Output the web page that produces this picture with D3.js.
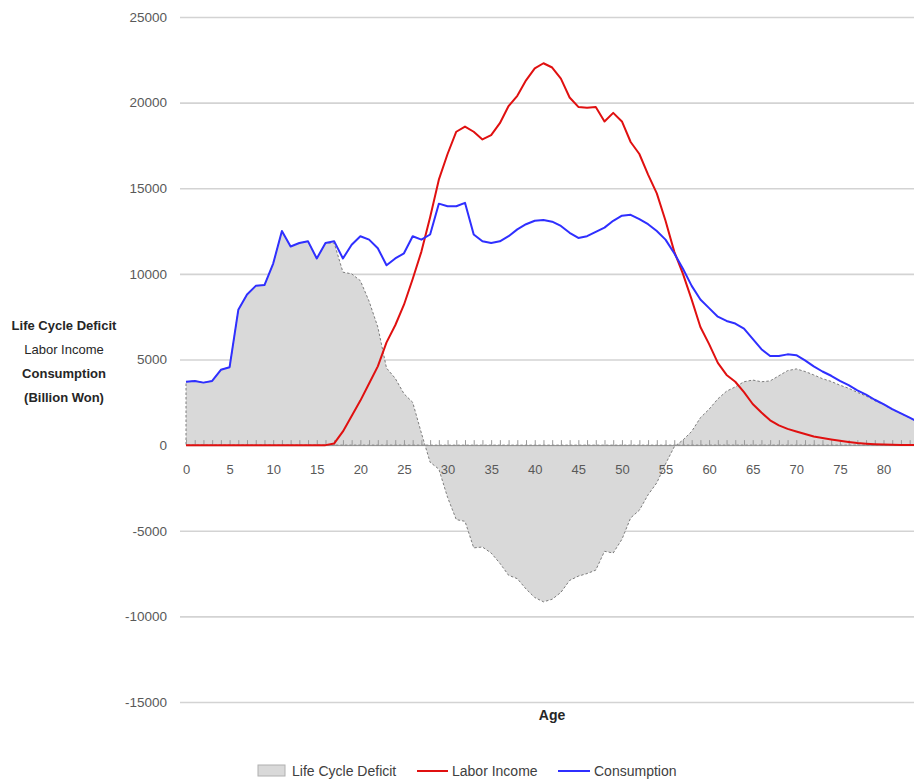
<!DOCTYPE html>
<html>
<head>
<meta charset="utf-8">
<script src="https://cdn.jsdelivr.net/npm/d3@7"></script>
<style>
    body { margin: 0; background: #fff; }
    svg { display: block; font-family: "Liberation Sans", Arial, sans-serif; }
</style>
</head>
<body>
<div id="chart-container"></div>
<script>
// ages 0..84 (category axis)
const ages = d3.range(0, 85);

// Consumption by age (billion won)
const consumption = [
    3700, 3750, 3650, 3750, 4400, 4550, 7900, 8800, 9300, 9350,
    10600, 12500, 11600, 11800, 11900, 10900, 11800, 11900, 10900, 11700,
    12200, 12000, 11500, 10500, 10900, 11200, 12200, 12000, 12300, 14100,
    13950, 13950, 14150, 12300, 11900, 11800, 11900, 12200, 12600, 12900,
    13100, 13150, 13050, 12800, 12400, 12100, 12200, 12450, 12700, 13100,
    13400, 13450, 13200, 12900, 12500, 12000, 11200, 10300, 9300, 8500,
    8000, 7500, 7250, 7100, 6800, 6200, 5600, 5200, 5200, 5300,
    5250, 4950, 4600, 4300, 4050, 3750, 3500, 3200, 2950, 2650,
    2400, 2100, 1850, 1600, 1350
];

// Labor income by age (billion won)
const laborIncome = [
    0, 0, 0, 0, 0, 0, 0, 0, 0, 0,
    0, 0, 0, 0, 0, 0, 0, 100, 800, 1700,
    2600, 3600, 4600, 6000, 7000, 8200, 9700, 11300, 13300, 15500,
    17000, 18300, 18600, 18300, 17850, 18100, 18800, 19800, 20400, 21300,
    22000, 22300, 22050, 21400, 20300, 19750, 19700, 19750, 18900, 19400,
    18900, 17700, 17000, 15800, 14700, 13100, 11300, 10000, 8500, 6900,
    5900, 4800, 4100, 3700, 3100, 2400, 1900, 1450, 1150, 950,
    800, 650, 500, 420, 330, 250, 180, 120, 80, 50,
    30, 20, 10, 5, 0
];

// Life cycle deficit = consumption - labor income
const lifeCycleDeficit = consumption.map((c, i) => c - laborIncome[i]);

const yTicks = [-15000, -10000, -5000, 0, 5000, 10000, 15000, 20000, 25000];
const xTickLabels = [0, 5, 10, 15, 20, 25, 30, 35, 40, 45, 50, 55, 60, 65, 70, 75, 80];
const yTitle = ["Life Cycle Deficit", "Labor Income", "Consumption", "(Billion Won)"];
const legendItems = ["Life Cycle Deficit", "Labor Income", "Consumption"];

(function () {
    const W = 914, H = 782;
    const left = 186, right = 914, top = 17, bottom = 702;

    const x = d3.scaleLinear().domain([0, 83.5]).range([left, right]);
    const y = d3.scaleLinear().domain([-15000, 25000]).range([bottom, top]);

    const svg = d3.select("#chart-container")
        .append("svg")
        .attr("width", W)
        .attr("height", H);

    const data = ages.map((a, i) => ({
        age: a, c: consumption[i], l: laborIncome[i], d: lifeCycleDeficit[i]
    }));

    // gridlines + y labels
    const yAxis = svg.append("g")
        .attr("transform", "translate(180,0)")
        .call(d3.axisLeft(y)
            .tickValues(yTicks)
            .tickSize(-(W - 180))
            .tickPadding(13)
            .tickFormat(d => String(d)));
    yAxis.select(".domain").remove();
    yAxis.selectAll(".tick line")
        .attr("stroke", d => d === 0 ? "none" : "#d3d3d3")
        .attr("stroke-width", 1.6);
    yAxis.selectAll("text")
        .attr("fill", "#595959")
        .style("font-size", "13.5px");

    // deficit area
    const area = d3.area()
        .x(d => x(d.age))
        .y0(y(0))
        .y1(d => y(d.d));

    svg.append("path")
        .datum(data)
        .attr("fill", "#d9d9d9")
        .attr("stroke", "#6f6f6f")
        .attr("stroke-width", 0.9)
        .attr("stroke-dasharray", "2.5,2")
        .attr("d", area);

    // x axis at zero
    const xAxis = svg.append("g")
        .attr("transform", `translate(0,${y(0)})`)
        .call(d3.axisBottom(x)
            .tickValues(ages)
            .tickSize(-5)
            .tickPadding(20)
            .tickFormat(d => xTickLabels.includes(d) ? d : ""));
    xAxis.select(".domain").attr("stroke", "#8c8c8c");
    xAxis.selectAll(".tick line").attr("stroke", "#9a9a9a");
    xAxis.selectAll("text")
        .attr("fill", "#595959")
        .style("font-size", "13px");

    // lines
    const lineL = d3.line().x(d => x(d.age)).y(d => y(d.l));
    const lineC = d3.line().x(d => x(d.age)).y(d => y(d.c));

    svg.append("path")
        .datum(data)
        .attr("fill", "none")
        .attr("stroke", "#e01010")
        .attr("stroke-width", 2)
        .attr("stroke-linejoin", "round")
        .attr("d", lineL);

    svg.append("path")
        .datum(data)
        .attr("fill", "none")
        .attr("stroke", "#2f2fff")
        .attr("stroke-width", 2)
        .attr("stroke-linejoin", "round")
        .attr("d", lineC);

    // y title
    svg.append("text")
        .attr("x", 64)
        .attr("y", 330)
        .attr("text-anchor", "middle")
        .attr("fill", "#262626")
        .style("font-size", "13px")
        .style("font-weight", "bold")
        .selectAll("tspan")
        .data(yTitle)
        .join("tspan")
        .attr("x", 64)
        .attr("dy", (d, i) => i === 0 ? 0 : 24)
        .style("font-weight", (d, i) => i === 1 ? "normal" : "bold")
        .text(d => d);

    // x title
    svg.append("text")
        .attr("x", 552)
        .attr("y", 720)
        .attr("text-anchor", "middle")
        .attr("fill", "#262626")
        .style("font-size", "14px")
        .style("font-weight", "bold")
        .text("Age");

    // legend
    const lg = svg.append("g").style("font-size", "14px").attr("fill", "#404040");
    lg.append("rect")
        .attr("x", 258).attr("y", 765).attr("width", 27).attr("height", 11)
        .attr("fill", "#d9d9d9").attr("stroke", "#b0b0b0");
    lg.append("text").attr("x", 292).attr("y", 776).text(legendItems[0]);
    lg.append("line")
        .attr("x1", 417).attr("x2", 448).attr("y1", 771).attr("y2", 771)
        .attr("stroke", "#e01010").attr("stroke-width", 2);
    lg.append("text").attr("x", 452).attr("y", 776).text(legendItems[1]);
    lg.append("line")
        .attr("x1", 558).attr("x2", 590).attr("y1", 771).attr("y2", 771)
        .attr("stroke", "#2f2fff").attr("stroke-width", 2);
    lg.append("text").attr("x", 594).attr("y", 776).text(legendItems[2]);
})();
</script>
</body>
</html>
